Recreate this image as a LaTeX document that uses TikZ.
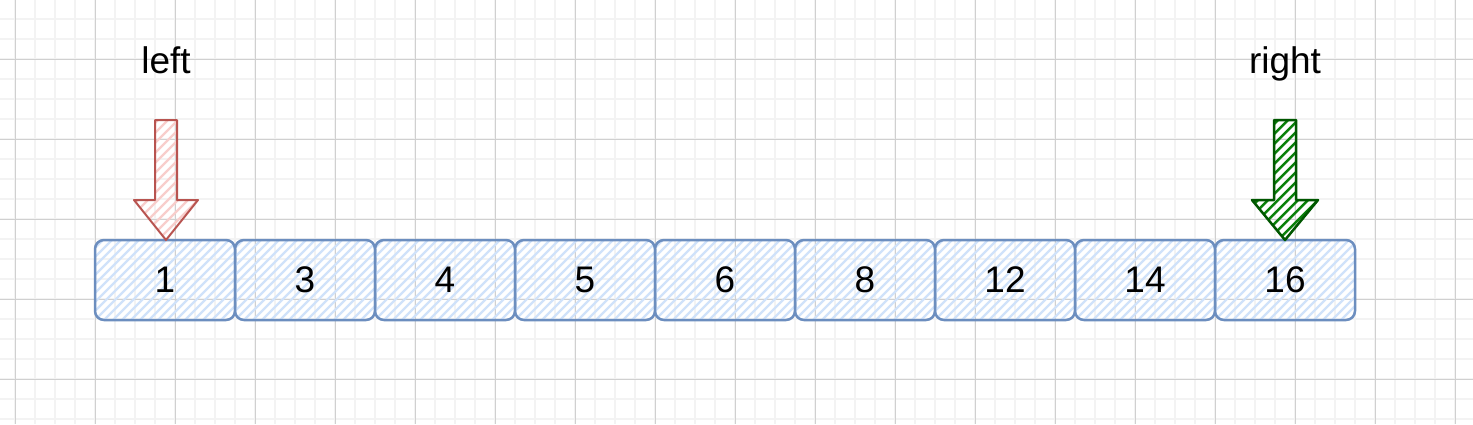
\documentclass[tikz,border=0pt]{standalone}
\usepackage{fontspec}
\setmainfont{Liberation Sans}
\usetikzlibrary{calc}
\definecolor{boxline}{HTML}{6C8EBF}
\definecolor{boxhatch}{HTML}{D0E2FA}
\definecolor{redline}{HTML}{B85450}
\definecolor{redhatch}{HTML}{F8CECC}
\definecolor{greenline}{HTML}{005700}
\definecolor{greenhatch}{HTML}{0A800A}
\definecolor{minorgrid}{HTML}{F3F3F3}
\definecolor{majorgrid}{HTML}{D0D0D0}
\begin{document}
\begin{tikzpicture}[x=1pt,y=-1pt,
  minor/.style={draw=minorgrid,line width=1.6pt},
  major/.style={draw=majorgrid,line width=1pt},
  cell/.style={draw=boxline,line width=2.5pt,rounded corners=9pt,
    minimum width=140pt,minimum height=80pt,inner sep=0pt,
    font=\fontsize{37}{40}\selectfont,
    path picture={\foreach \k in {0,...,36}{\draw[boxhatch,line width=2.4pt]
      ($(path picture bounding box.south west)+(\k*9pt-90pt,0pt)$) -- ++(100pt,100pt);}}},
  lbl/.style={font=\fontsize{37}{40}\selectfont,inner sep=0pt,anchor=base}]
\useasboundingbox (0,0) rectangle (1473,424);
\fill[white] (0,0) rectangle (1473,424);
% grid
\foreach \x in {15,35,...,1475} \draw[minor] (\x,0) -- (\x,424);
\foreach \y in {19,39,...,419} \draw[minor] (0,\y) -- (1473,\y);
\foreach \x in {15,95,...,1455} \draw[major] (\x,0) -- (\x,424);
\foreach \y in {59,139,...,379} \draw[major] (0,\y) -- (1473,\y);
% cells
\foreach \v [count=\i from 0] in {1,3,4,5,6,8,12,14,16}
  \node[cell] (c\i) at (165+140*\i,280) {\v};
% labels
\node[lbl] (leftlbl) at (166,73) {left};
\node[lbl] (rightlbl) at (1285,73) {right};
% red arrow
\begin{scope}
\clip (155,120) -- (177,120) -- (177,200) -- (198,200) -- (166,240) -- (134,200) -- (155,200) -- cycle;
\foreach \k in {0,...,22} \draw[redhatch,line width=2.2pt] (-12+\k*10,260) -- ++(160,-160);
\end{scope}
\draw[redline,line width=2pt,line join=round] (155,120) -- (177,120) -- (177,200) -- (198,200) -- (166,240) -- (134,200) -- (155,200) -- cycle;
% green arrow
\begin{scope}
\clip (1274,120) -- (1296,120) -- (1296,200) -- (1318,200) -- (1285,240) -- (1252,200) -- (1274,200) -- cycle;
\foreach \k in {0,...,19} \draw[greenhatch,line width=2.5pt] (1108+\k*10,260) -- ++(160,-160);
\end{scope}
\draw[greenline,line width=2.5pt,line join=round] (1274,120) -- (1296,120) -- (1296,200) -- (1318,200) -- (1285,240) -- (1252,200) -- (1274,200) -- cycle;
\end{tikzpicture}
\end{document}
